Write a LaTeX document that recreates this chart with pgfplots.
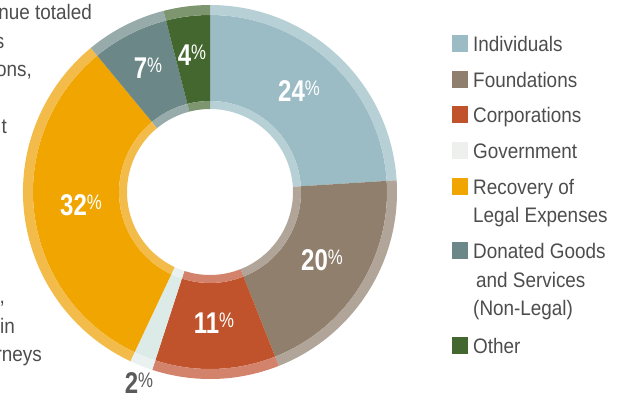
\documentclass[border=0pt]{standalone}
\usepackage{pgfplots}
\pgfplotsset{compat=1.18}
\usepackage{fontspec}
\setmainfont{Liberation Sans}[FakeStretch=0.9]
\newfontfamily\numfont{Liberation Sans}[FakeStretch=0.8]
\definecolor{cInd}{HTML}{9BBCC5}\definecolor{lInd}{HTML}{B7D0D6}
\definecolor{cFou}{HTML}{8F7F6C}\definecolor{lFou}{HTML}{B1A499}
\definecolor{cCor}{HTML}{C0532C}\definecolor{lCor}{HTML}{D3836B}
\definecolor{cGov}{HTML}{DCEBE8}\definecolor{lGov}{HTML}{E9F2F0}
\definecolor{sGov}{HTML}{EEF0EE}
\definecolor{cRec}{HTML}{F0A500}\definecolor{lRec}{HTML}{F3BC4A}
\definecolor{cDon}{HTML}{6C8787}\definecolor{lDon}{HTML}{98ABAB}
\definecolor{cOth}{HTML}{44672F}\definecolor{lOth}{HTML}{7E9670}
\definecolor{txt}{HTML}{4D4D4D}
\definecolor{pgray}{HTML}{5A5A5A}
\newcommand\pct[1]{{\numfont\bfseries\fontsize{30bp}{30bp}\selectfont #1\raisebox{5.5bp}{\fontsize{21bp}{21bp}\selectfont\mdseries\%}}}
\newcommand\donut{%
\begin{scope}[shift={(axis cs:210,208)}]
\gdef\curang{90}
\foreach \v/\fc/\lc in {24/cInd/lInd,20/cFou/lFou,11/cCor/lCor,2/cGov/lGov,32/cRec/lRec,7/cDon/lDon,4/cOth/lOth}{
  \pgfmathsetmacro\s{\curang}
  \pgfmathsetmacro\e{\curang-3.6*\v}
  \fill[\fc] (\s:177bp) arc[start angle=\s,end angle=\e,radius=177bp] -- (\e:91bp) arc[start angle=\e,end angle=\s,radius=91bp] -- cycle;
  \fill[\lc] (\s:187bp) arc[start angle=\s,end angle=\e,radius=187bp] -- (\e:177bp) arc[start angle=\e,end angle=\s,radius=177bp] -- cycle;
  \fill[\lc] (\s:91bp) arc[start angle=\s,end angle=\e,radius=91bp] -- (\e:83bp) arc[start angle=\e,end angle=\s,radius=83bp] -- cycle;
  \xdef\curang{\e}
}
\end{scope}}
\begin{document}
\begin{tikzpicture}
\path[use as bounding box] (0,0) rectangle (617bp,400bp);
\clip (0,0) rectangle (617bp,400bp);
\begin{axis}[width=617bp,height=400bp,scale only axis,
  xmin=0,xmax=617,ymin=0,ymax=400,hide axis,clip=false]
% left text fragments
\begin{scope}[every node/.style={font=\fontsize{21bp}{21bp}\selectfont,text=txt,inner sep=0pt,anchor=base east}]
\node at (axis cs:92,380) {nue totaled};
\node at (axis cs:4.5,351.5) {s};
\node at (axis cs:32,323) {ons,};
\node at (axis cs:7,266) {t};
\node at (axis cs:5,96) {,};
\node at (axis cs:15,66.5) {in};
\node at (axis cs:42,38) {rneys};
\end{scope}
\pgfplotsextra{\donut}
% percentage labels
\node[text=white] at (axis cs:299,309) {\pct{24}};
\node[text=white] at (axis cs:322,140) {\pct{20}};
\node[text=white] at (axis cs:214,77) {\pct{11}};
\node[text=pgray] at (axis cs:139,17) {\pct{2}};
\node[text=white] at (axis cs:81,195) {\pct{32}};
\node[text=white] at (axis cs:148,332) {\pct{7}};
\node[text=white] at (axis cs:192,345) {\pct{4}};
% legend
\begin{scope}[every node/.style={font=\fontsize{21bp}{21bp}\selectfont,text=txt,inner sep=0pt,anchor=base west}]
\fill[cInd] (axis cs:452,364.5) rectangle (axis cs:468,347.5);
\node at (axis cs:473,348.5) {Individuals};
\fill[cFou] (axis cs:452,329) rectangle (axis cs:468,311.5);
\node at (axis cs:473,312) {Foundations};
\fill[cCor] (axis cs:452,294) rectangle (axis cs:468,276.5);
\node at (axis cs:473,277) {Corporations};
\fill[sGov] (axis cs:452,258) rectangle (axis cs:468,240.5);
\node at (axis cs:473,241) {Government};
\fill[cRec] (axis cs:452,222) rectangle (axis cs:468,204.5);
\node at (axis cs:473,205) {Recovery of};
\node at (axis cs:473,177) {Legal Expenses};
\fill[cDon] (axis cs:452,158) rectangle (axis cs:468,140.5);
\node at (axis cs:473,141) {Donated Goods};
\node at (axis cs:476,112) {and Services};
\node at (axis cs:473,84) {(Non-Legal)};
\fill[cOth] (axis cs:452,63) rectangle (axis cs:468,45.5);
\node at (axis cs:473,46) {Other};
\end{scope}
\end{axis}
\end{tikzpicture}
\end{document}
